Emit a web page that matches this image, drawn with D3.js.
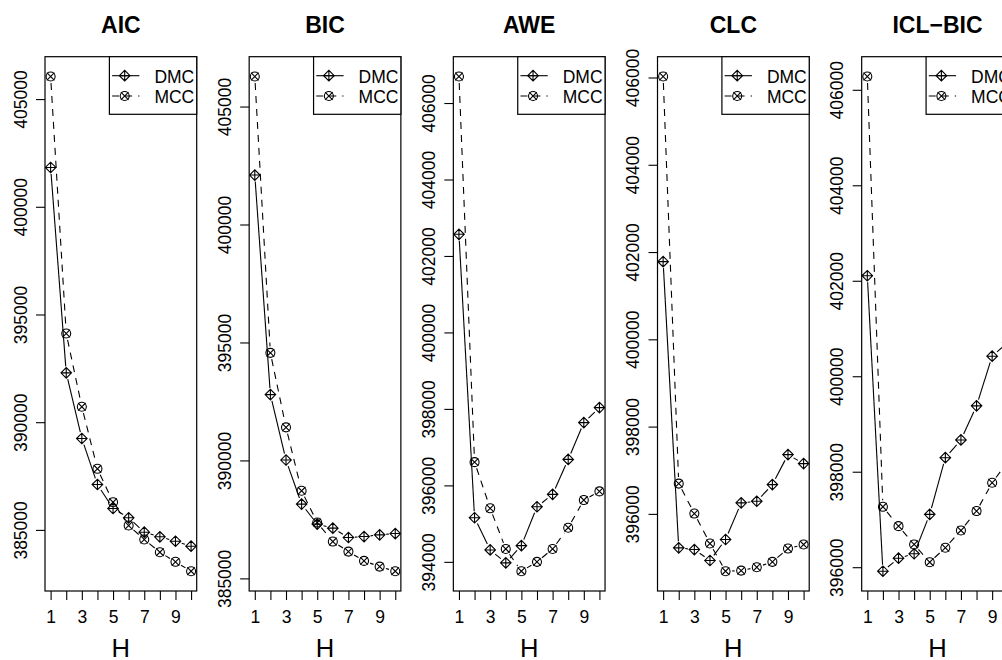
<!DOCTYPE html>
<html><head><meta charset="utf-8">
<script src="https://cdn.jsdelivr.net/npm/d3@7"></script>
<style>
body{margin:0;background:#fff}
svg{display:block}
text{font-family:"Liberation Sans",Arial,Helvetica,sans-serif;fill:#000}
</style>
</head><body>
<svg id="chart" width="1002" height="660"></svg>
<script>
// ---- data ----
const H = [1,2,3,4,5,6,7,8,9,10];
const criteria = ["AIC","BIC","AWE","CLC","ICL\u2212BIC"];
const seriesNames = ["DMC","MCC"];

const dmcAIC = [401825,392290,389243,387108,385993,385561,384893,384679,384475,384243];
const mccAIC = [406049,394118,390715,387836,386286,385204,384554,383964,383518,383082];
const dmcBIC = [402096,392790,390017,388149,387300,387130,386731,386773,386845,386900];
const mccBIC = [406274,394560,391401,388713,387367,386561,386136,385741,385499,385304];
const dmcAWE = [402566,395154,394311,393974,394424,395441,395765,396679,397642,398034];
const mccAWE = [406694,396608,395400,394337,393755,394000,394337,394893,395616,395843];
const dmcCLC = [401780,395221,395182,394931,395412,396252,396289,396671,397358,397152];
const mccCLC = [406023,396694,396007,395320,394686,394700,394777,394901,395205,395297];
const dmcICL = [402105,395916,396189,396281,397107,398294,398666,399380,400420,400708];
const mccICL = [406279,397265,396860,396477,396105,396407,396770,397176,397769,398210];

const yTicksAIC = [385000,390000,395000,400000,405000];
const yTicksBIC = [385000,390000,395000,400000,405000];
const yTicksAWE = [394000,396000,398000,400000,402000,404000,406000];
const yTicksCLC = [396000,398000,400000,402000,404000,406000];
const yTicksICL = [396000,398000,400000,402000,404000,406000];

const xTickLabels = ["1","3","5","7","9"];

const panels = [
  {title: criteria[0], dmc: dmcAIC, mcc: mccAIC, ticks: yTicksAIC},
  {title: criteria[1], dmc: dmcBIC, mcc: mccBIC, ticks: yTicksBIC},
  {title: criteria[2], dmc: dmcAWE, mcc: mccAWE, ticks: yTicksAWE},
  {title: criteria[3], dmc: dmcCLC, mcc: mccCLC, ticks: yTicksCLC},
  {title: criteria[4], dmc: dmcICL, mcc: mccICL, ticks: yTicksICL}
];

// ---- layout ----
const firstLeft = 45, step = 204.17, pw = 151.7;
const plotTop = 56.7, plotBottom = 591;
const fs = 17.5;
const gap = 6.5;
const dashMCC = "7,6";

const svg = d3.select("#chart");

function diamondPlus(g, x, y){
  const s = 5.3;
  g.append("path")
   .attr("d", `M${x-s},${y}L${x},${y-s}L${x+s},${y}L${x},${y+s}Z M${x-s},${y}H${x+s} M${x},${y-s}V${y+s}`)
   .attr("fill","none").attr("stroke","#000").attr("stroke-width",1.1);
}
function circleX(g, x, y){
  const r = 4.5, a = 3.8;
  g.append("circle").attr("cx",x).attr("cy",y).attr("r",r)
   .attr("fill","none").attr("stroke","#000").attr("stroke-width",1.1);
  g.append("path")
   .attr("d", `M${x-a},${y-a}L${x+a},${y+a}M${x-a},${y+a}L${x+a},${y-a}`)
   .attr("fill","none").attr("stroke","#000").attr("stroke-width",1.1);
}

panels.forEach((p, i) => {
  const left = firstLeft + i*step, right = left + pw;
  const all = p.dmc.concat(p.mcc);
  const ext = d3.extent(all), r = ext[1]-ext[0];
  const y = d3.scaleLinear().domain([ext[0]-0.04*r, ext[1]+0.04*r]).range([plotBottom, plotTop]);
  const x = d3.scaleLinear().domain([1-0.04*9, 10+0.04*9]).range([left, right]);

  const g = svg.append("g");
  const clipId = "clip"+i;
  svg.append("clipPath").attr("id", clipId).append("rect")
    .attr("x", left).attr("y", plotTop).attr("width", pw).attr("height", plotBottom-plotTop);

  // y axis
  const ya = g.append("g").attr("transform", `translate(${left},0)`)
    .call(d3.axisLeft(y).tickValues(p.ticks).tickSize(9).tickSizeOuter(0).tickFormat(d3.format("d")));
  ya.attr("font-size", fs).attr("font-family", null);
  ya.select(".domain").remove();
  ya.selectAll(".tick line").attr("stroke","#000").attr("stroke-width",1.1);
  ya.selectAll(".tick text")
    .attr("x", null).attr("dy", null)
    .attr("text-anchor","middle")
    .attr("transform","translate(-18.5,0) rotate(-90)");

  // x axis
  const xa = g.append("g").attr("transform", `translate(0,${plotBottom})`)
    .call(d3.axisBottom(x).tickValues(H).tickSize(9).tickSizeOuter(0)
      .tickFormat(d => xTickLabels.includes(String(d)) ? String(d) : ""));
  xa.attr("font-size", fs).attr("font-family", null);
  xa.select(".domain").remove();
  xa.selectAll(".tick line").attr("stroke","#000").attr("stroke-width",1.1);
  xa.selectAll(".tick text").attr("y", 32.4).attr("dy", null);

  // data (type = "b")
  const dg = g.append("g").attr("clip-path", `url(#${clipId})`);
  [[p.dmc, null, diamondPlus],[p.mcc, dashMCC, circleX]].forEach(([vals, dash, mark]) => {
    for (let k = 0; k < H.length-1; k++){
      const x1 = x(H[k]), y1 = y(vals[k]), x2 = x(H[k+1]), y2 = y(vals[k+1]);
      const d = Math.hypot(x2-x1, y2-y1);
      if (d <= 2*gap) continue;
      const ux = (x2-x1)/d, uy = (y2-y1)/d;
      dg.append("line")
        .attr("x1", x1+ux*gap).attr("y1", y1+uy*gap)
        .attr("x2", x2-ux*gap).attr("y2", y2-uy*gap)
        .attr("stroke","#000").attr("stroke-width",1.1)
        .attr("stroke-dasharray", dash);
    }
    H.forEach((h, k) => mark(dg, x(h), y(vals[k])));
  });

  // box
  g.append("rect").attr("x", left).attr("y", plotTop).attr("width", pw).attr("height", plotBottom-plotTop)
    .attr("fill","none").attr("stroke","#000").attr("stroke-width",1.2);

  // legend
  const lw = 87.3, lh = 57.6, lx = right - lw;
  const lg = g.append("g");
  lg.append("rect").attr("x", lx).attr("y", plotTop).attr("width", lw).attr("height", lh)
    .attr("fill","#fff").attr("stroke","#000").attr("stroke-width",1.2);
  [[seriesNames[0], null, diamondPlus, 19],[seriesNames[1], dashMCC, circleX, 39.3]].forEach(([name, dash, mark, dy]) => {
    const cy = plotTop + dy;
    lg.append("line").attr("x1", lx+2.7).attr("x2", lx+30).attr("y1", cy).attr("y2", cy)
      .attr("stroke","#000").attr("stroke-width",1.1).attr("stroke-dasharray", dash);
    mark(lg, lx+15.3, cy);
    lg.append("text").attr("x", lx+45).attr("y", cy+7.4).attr("font-size", fs).text(name);
  });

  // title
  g.append("text").attr("x", left+pw/2).attr("y", 33.3).attr("text-anchor","middle")
    .attr("font-size", 23).attr("font-weight","bold").text(p.title);
  // x label
  g.append("text").attr("x", left+pw/2).attr("y", 656.5).attr("text-anchor","middle")
    .attr("font-size", 25.6).text("H");
});
</script>
</body></html>
